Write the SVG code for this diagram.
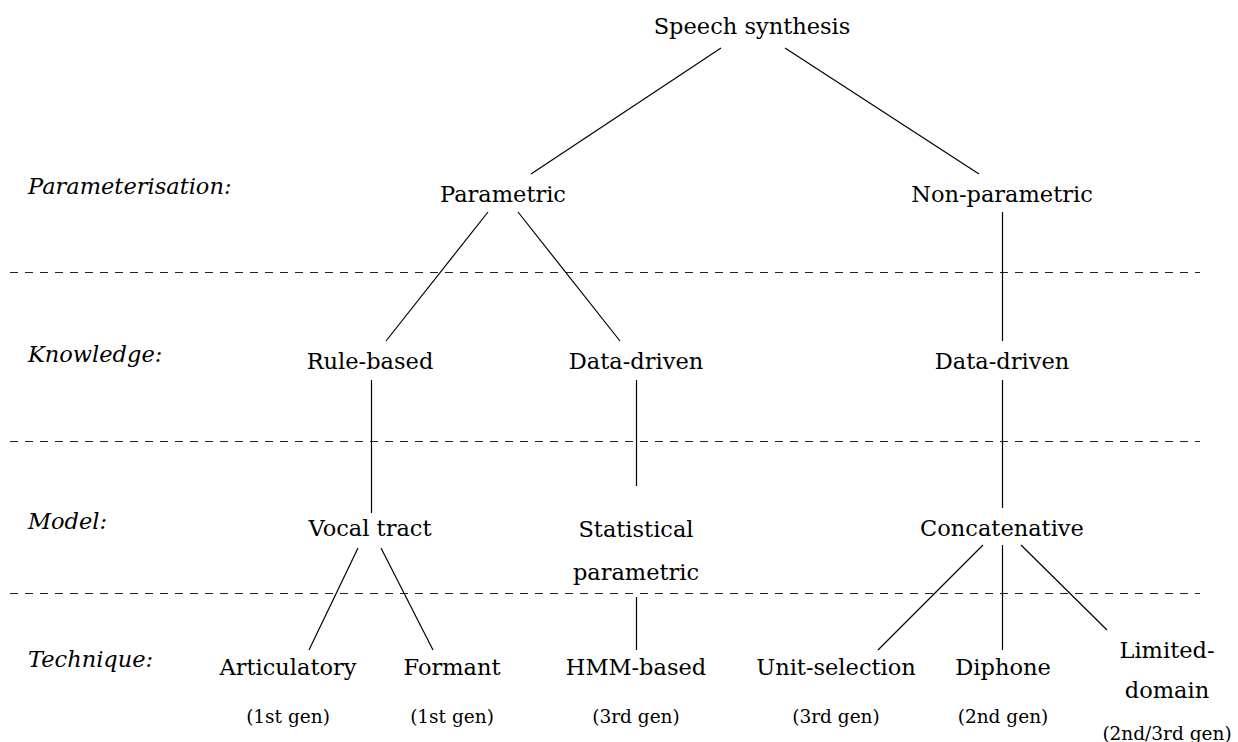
<svg xmlns="http://www.w3.org/2000/svg" width="1238" height="742" viewBox="0 0 1238 742">
<style>
text{font-family:"DejaVu Serif",serif;fill:#000;text-anchor:middle;font-size:22.5px}
.lvl{font-style:italic;text-anchor:start;font-size:22.5px}
.gen{font-size:18.5px}
.c line{stroke:#000;stroke-width:1.2}
.d line{stroke:#222;stroke-width:1.1;stroke-dasharray:8,7}
</style>
<rect width="1238" height="742" fill="#fff"/>
<g class="d" id="separators">
<line x1="10" y1="272.5" x2="1200" y2="272.5"/>
<line x1="10" y1="441.5" x2="1200" y2="441.5"/>
<line x1="10" y1="593.5" x2="1200" y2="593.5"/>
</g>
<g id="levels">
<text class="lvl" x="28" y="194">Parameterisation:</text>
<text class="lvl" x="28" y="362">Knowledge:</text>
<text class="lvl" x="28" y="529">Model:</text>
<text class="lvl" x="28" y="667">Technique:</text>
</g>
<g class="c" id="connectors">
<line x1="721" y1="48" x2="531" y2="174"/>
<line x1="785" y1="48" x2="979" y2="174"/>
<line x1="488" y1="212" x2="386" y2="341"/>
<line x1="518" y1="212" x2="620" y2="341"/>
<line x1="1002.5" y1="212" x2="1002.5" y2="341"/>
<line x1="371.5" y1="380" x2="371.5" y2="513"/>
<line x1="636.5" y1="380" x2="636.5" y2="486"/>
<line x1="1002.5" y1="380" x2="1002.5" y2="508"/>
<line x1="636.5" y1="597" x2="636.5" y2="650"/>
<line x1="358" y1="548" x2="309" y2="650"/>
<line x1="381" y1="548" x2="433" y2="650"/>
<line x1="983" y1="545" x2="878" y2="650"/>
<line x1="1002.5" y1="545" x2="1002.5" y2="650"/>
<line x1="1021" y1="545" x2="1107" y2="630"/>
</g>
<g id="n-speech"><text x="752" y="34">Speech synthesis</text></g>
<g id="n-parametric"><text x="503" y="202">Parametric</text></g>
<g id="n-nonparametric"><text x="1002" y="202">Non-parametric</text></g>
<g id="n-rule"><text x="370" y="369">Rule-based</text></g>
<g id="n-data1"><text x="636" y="369">Data-driven</text></g>
<g id="n-data2"><text x="1002" y="369">Data-driven</text></g>
<g id="n-vocal"><text x="370" y="536">Vocal tract</text></g>
<g id="n-stat"><text x="636" y="537">Statistical</text><text x="636" y="580">parametric</text></g>
<g id="n-concat"><text x="1002" y="536">Concatenative</text></g>
<g id="n-artic"><text x="288" y="675">Articulatory</text><text class="gen" x="288" y="723">(1st gen)</text></g>
<g id="n-formant"><text x="452" y="675">Formant</text><text class="gen" x="452" y="723">(1st gen)</text></g>
<g id="n-hmm"><text x="636" y="675">HMM-based</text><text class="gen" x="636" y="723">(3rd gen)</text></g>
<g id="n-unit"><text x="836" y="675">Unit-selection</text><text class="gen" x="836" y="723">(3rd gen)</text></g>
<g id="n-diphone"><text x="1003" y="675">Diphone</text><text class="gen" x="1003" y="723">(2nd gen)</text></g>
<g id="n-limited"><text x="1167" y="658">Limited-</text><text x="1167" y="698">domain</text><text class="gen" x="1167" y="740">(2nd/3rd gen)</text></g>
</svg>
